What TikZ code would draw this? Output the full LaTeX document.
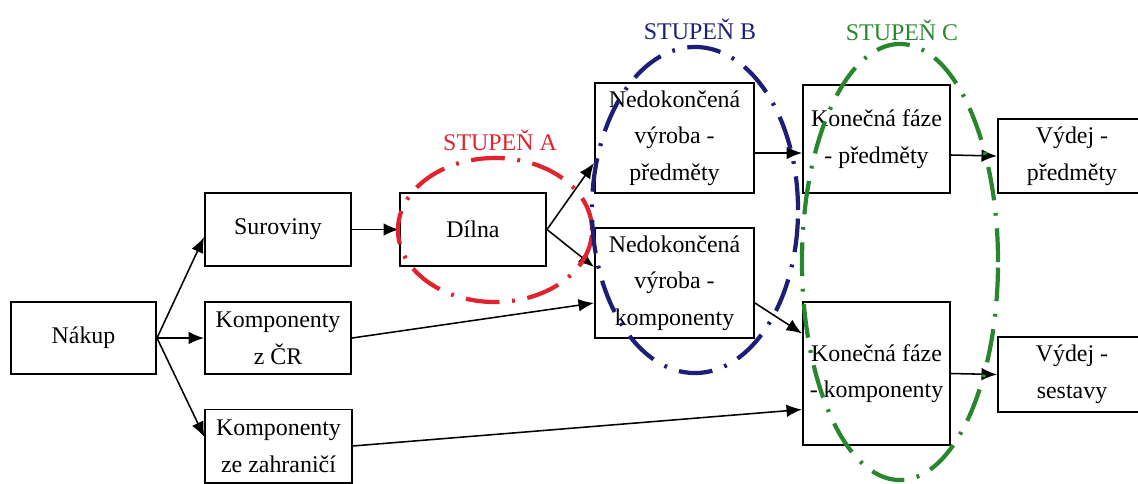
\documentclass[tikz,border=0pt]{standalone}
\usepackage{fontspec}
\setmainfont{Liberation Serif}
\usetikzlibrary{arrows.meta}
\definecolor{stupenA}{RGB}{225,35,45}
\definecolor{stupenB}{RGB}{30,30,120}
\definecolor{stupenC}{RGB}{40,135,45}
\tikzstyle{box} = [rectangle, draw=black, line width=1.4pt, fill=white, align=center, inner sep=0pt, font=\fontsize{17}{26}\selectfont]
\tikzstyle{stdbox} = [box, minimum width=3.65cm, minimum height=1.825cm]
\tikzstyle{nedbox} = [box, minimum width=3.975cm, minimum height=2.75cm]
\tikzstyle{flow} = [-{Latex[length=11pt,width=9pt]}, line width=1.1pt]
\tikzstyle{stage} = [line width=3pt, dash pattern=on 24pt off 9pt on 2pt off 9pt]
\tikzstyle{stagelabel} = [inner sep=0pt, font=\fontsize{17}{20}\selectfont]

\begin{document}
\begin{tikzpicture}[x=0.025cm, y=-0.025cm]
\useasboundingbox (0,0) rectangle (1138,483);

% sources
\node (nakup) [stdbox, minimum width=3.625cm, minimum height=1.8cm] at (83.5,338) {Nákup};
\node (surov) [stdbox] at (278,229.5) {Suroviny};
\node (kcr) [stdbox, minimum height=1.8cm] at (278,338) {Komponenty\\z ČR};
\node (zahr) [stdbox] at (278.5,446) {Komponenty\\ze zahraničí};

% stage A, B
\node (dilna) [stdbox] at (473,229.5) {Dílna};
\node (nedp) [nedbox] at (674.5,138) {Nedokončená\\výroba -\\předměty};
\node (nedk) [nedbox] at (674.5,283) {Nedokončená\\výroba -\\komponenty};

% stage C and output
\node (kfp) [box, minimum width=3.675cm, minimum height=2.7cm] at (876.5,139) {Konečná fáze\\- předměty};
\node (kfk) [box, minimum width=3.675cm, minimum height=3.575cm] at (876.5,373.5) {Konečná fáze\\- komponenty};
\node (vp) [box, minimum width=3.7cm, minimum height=1.85cm] at (1072,156) {Výdej -\\předměty};
\node (vs) [box, minimum width=3.7cm, minimum height=1.875cm] at (1072,374.5) {Výdej -\\sestavy};

\draw [flow] (nakup.east) -- ([yshift=-0.19cm]surov.west);
\draw [flow] (nakup.east) -- (kcr.west);
\draw [flow] (nakup.east) -- ([yshift=0.22cm]zahr.west);
\draw [flow] (surov.east) -- (dilna.west);
\draw [flow] (dilna.east) -- ([yshift=-0.625cm]nedp.west);
\draw [flow] (dilna.east) -- ([yshift=0.4cm]nedk.west);
\draw [flow] (kcr.east) -- ([yshift=-0.5cm]nedk.west);
\draw [flow] (zahr.east) -- ([yshift=-0.9cm]kfk.west);
\draw [flow] ([yshift=-0.375cm]nedp.east) -- ([yshift=-0.35cm]kfp.west);
\draw [flow] ([yshift=-0.5cm]nedk.east) -- ([yshift=1.0cm]kfk.west);
\draw [flow] ([yshift=-0.4cm]kfp.east) -- (vp.west);
\draw [flow] (kfk.east) -- (vs.west);

% stages
\draw [stage, stupenA] (495,230) ellipse [x radius=2.425cm, y radius=1.8cm];
\draw [stage, stupenB] (695,210) ellipse [x radius=2.575cm, y radius=4.075cm];
\draw [stage, stupenC] (900,262) ellipse [x radius=2.45cm, y radius=5.45cm];
\node (labA) [stagelabel, text=stupenA] at (500,140) {STUPEŇ A};
\node (labB) [stagelabel, text=stupenB] at (700,29) {STUPEŇ B};
\node (labC) [stagelabel, text=stupenC] at (902,30) {STUPEŇ C};
\end{tikzpicture}
\end{document}
